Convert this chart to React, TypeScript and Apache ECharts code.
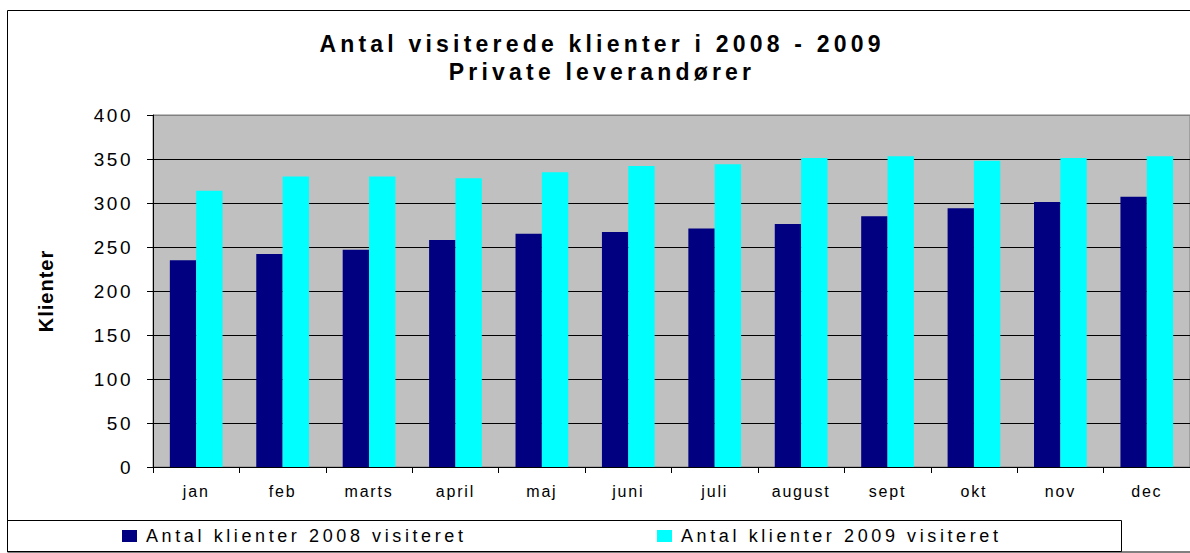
import React, { useEffect, useRef } from "react";
import * as echarts from "echarts";

const months = ["jan", "feb", "marts", "april", "maj", "juni", "juli", "august", "sept", "okt", "nov", "dec"];
const clients2008 = [235, 242, 247, 258, 265, 267, 271, 276, 285, 294, 301, 307];
const clients2009 = [314, 330, 330, 328, 335, 342, 344, 351, 353, 348, 351, 353];
const seriesNames = ["Antal klienter 2008 visiteret", "Antal klienter 2009 visiteret"];
const titleText = "Antal visiterede klienter i 2008 - 2009\nPrivate leverandører";
const yAxisName = "Klienter";

const FONT = "'Liberation Sans', Arial, sans-serif";

export default function App() {
  const ref = useRef<HTMLDivElement>(null);
  useEffect(() => {
    if (!ref.current) return;
    const chart = echarts.init(ref.current, undefined, { renderer: "svg" });
    chart.setOption({
      animation: false,
      backgroundColor: "#ffffff",
      textStyle: { fontFamily: FONT, color: "#000" },
      title: {
        text: titleText,
        left: 602,
        textAlign: "center",
        top: 30,
        padding: 0,
        textStyle: { fontSize: 23, fontWeight: "bold", color: "#000", lineHeight: 28, fontFamily: FONT },
      },
      legend: [
        {
          data: [seriesNames[0]],
          left: 117,
          top: 522,
          itemWidth: 15,
          itemHeight: 12,
          icon: "rect",
          textStyle: { fontSize: 18, color: "#000", fontFamily: FONT, padding: [0, 0, 0, 4] },
        },
        {
          data: [seriesNames[1]],
          left: 652,
          top: 522,
          itemWidth: 15,
          itemHeight: 12,
          icon: "rect",
          textStyle: { fontSize: 18, color: "#000", fontFamily: FONT, padding: [0, 0, 0, 4] },
        },
      ],
      grid: {
        left: 153,
        top: 115,
        right: -3,
        bottom: 86,
        show: true,
        backgroundColor: "#C0C0C0",
        borderColor: "#808080",
        borderWidth: 1,
      },
      xAxis: {
        type: "category",
        data: months,
        axisLine: { show: true, lineStyle: { color: "#000", width: 1 } },
        axisTick: { show: true, length: 6, lineStyle: { color: "#000" } },
        axisLabel: { fontSize: 16, color: "#000", margin: 16, fontFamily: FONT },
      },
      yAxis: {
        type: "value",
        min: 0,
        max: 400,
        interval: 50,
        name: yAxisName,
        nameLocation: "middle",
        nameGap: 97,
        nameTextStyle: { fontSize: 20, fontWeight: "bold", color: "#000", fontFamily: FONT },
        axisLine: { show: true, lineStyle: { color: "#000", width: 1 } },
        axisTick: { show: true, length: 6, lineStyle: { color: "#000" } },
        axisLabel: { fontSize: 19, color: "#000", margin: 20, fontFamily: FONT },
        splitLine: {
          show: true,
          lineStyle: {
            color: ["#000", "#000", "#000", "#000", "#000", "#000", "#000", "#000", "#808080"],
            width: 1,
          },
        },
      },
      series: [
        {
          name: seriesNames[0],
          type: "bar",
          data: clients2008,
          barGap: "0%",
          barCategoryGap: "39%",
          itemStyle: { color: "#000080" },
        },
        {
          name: seriesNames[1],
          type: "bar",
          data: clients2009,
          barGap: "0%",
          barCategoryGap: "39%",
          itemStyle: { color: "#00FFFF" },
        },
      ],
      graphic: [
        {
          type: "rect",
          shape: { x: 7.5, y: 10.5, width: 1190, height: 541.5 },
          style: { fill: "none", stroke: "#000", lineWidth: 1 },
          silent: true,
          z: 100,
        },
        {
          type: "rect",
          shape: { x: 7.5, y: 520.5, width: 1114, height: 31 },
          style: { fill: "none", stroke: "#000", lineWidth: 1 },
          silent: true,
          z: 100,
        },
      ],
    });
    return () => chart.dispose();
  }, []);

  return (
    <>
      <style>{`
        #chartbox text[style*="23px"] { letter-spacing: 4.2px; }
        #chartbox text[style*="19px"] { letter-spacing: 2.5px; }
        #chartbox text[style*="18px"] { letter-spacing: 3.6px; }
        #chartbox text[style*="16px"] { letter-spacing: 1.8px; }
        #chartbox text[style*="20px"] { letter-spacing: 1px; }
      `}</style>
      <div
        id="chartbox"
        ref={ref}
        style={{ position: "absolute", left: 0, top: 0, width: 1190, height: 553 }}
      />
    </>
  );
}
